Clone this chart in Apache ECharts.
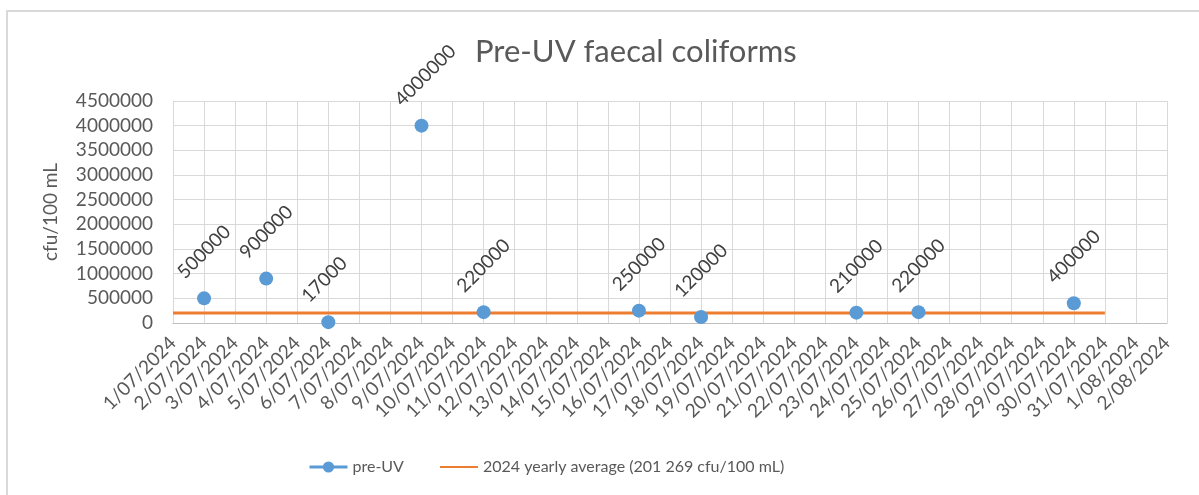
<!DOCTYPE html>
<html>
<head>
<meta charset="utf-8">
<script src="https://cdn.jsdelivr.net/npm/echarts@6/dist/echarts.min.js"></script>
<style>
  html, body { margin: 0; padding: 0; background: #fff; }
  #chart { width: 1199px; height: 495px; }
</style>
</head>
<body>
<div id="chart"></div>
<script>
// ── Data ──────────────────────────────────────────────────────────────────────
const dates = [
  '1/07/2024', '2/07/2024', '3/07/2024', '4/07/2024', '5/07/2024', '6/07/2024',
  '7/07/2024', '8/07/2024', '9/07/2024', '10/07/2024', '11/07/2024', '12/07/2024',
  '13/07/2024', '14/07/2024', '15/07/2024', '16/07/2024', '17/07/2024', '18/07/2024',
  '19/07/2024', '20/07/2024', '21/07/2024', '22/07/2024', '23/07/2024', '24/07/2024',
  '25/07/2024', '26/07/2024', '27/07/2024', '28/07/2024', '29/07/2024', '30/07/2024',
  '31/07/2024', '1/08/2024', '2/08/2024',
];

// sampled days only (pre-UV faecal coliforms, cfu/100 mL)
const sampleDates  = ['2/07/2024', '4/07/2024', '6/07/2024', '9/07/2024', '11/07/2024',
                      '16/07/2024', '18/07/2024', '23/07/2024', '25/07/2024', '30/07/2024'];
const sampleValues = [500000, 900000, 17000, 4000000, 220000,
                      250000, 120000, 210000, 220000, 400000];

const yearlyAverage = 201269;
const averageEnd    = '31/07/2024';

const yTicks = { min: 0, max: 4500000, interval: 500000 };

// ── Series built from the arrays above ───────────────────────────────────────
const preUV = dates.map(d => {
  const i = sampleDates.indexOf(d);
  return i >= 0 ? sampleValues[i] : null;
});
const lastAvg = dates.indexOf(averageEnd);
const avgLine = dates.map((d, i) => (i <= lastAvg ? yearlyAverage : null));

const FONT = 'Lato';
const TEXT = '#595959';
const GRID = '#d9d9d9';

const chart = echarts.init(document.getElementById('chart'), null, { renderer: 'canvas' });

chart.setOption({
  backgroundColor: '#fff',
  animation: false,
  textStyle: { fontFamily: FONT },
  title: {
    text: 'Pre-UV faecal coliforms',
    left: 470,
    top: 31,
    textStyle: { fontFamily: FONT, fontSize: 31, fontWeight: 'normal', color: TEXT },
  },
  graphic: [{
    type: 'rect',
    shape: { x: 7, y: 11, width: 1300, height: 600 },
    style: { fill: 'none', stroke: GRID, lineWidth: 2 },
    silent: true,
  }],
  legend: {
    left: 303,
    top: 454,
    itemWidth: 38,
    itemHeight: 14,
    itemGap: 35,
    textStyle: { fontFamily: FONT, fontSize: 16, color: TEXT },
    data: [
      { name: 'pre-UV', lineStyle: { width: 3, color: '#5b9bd5', opacity: 1 } },
      { name: '2024 yearly average (201 269 cfu/100 mL)', itemStyle: { opacity: 0 } },
    ],
  },
  grid: { left: 173, right: 32, top: 101, bottom: 172 },
  xAxis: {
    type: 'category',
    data: dates,
    boundaryGap: false,
    axisLine: { lineStyle: { color: '#bfbfbf', width: 1 } },
    axisTick: { show: false },
    axisLabel: {
      interval: 0,
      rotate: 45,
      margin: 17,
      fontFamily: FONT,
      fontSize: 19,
      color: TEXT,
    },
    splitLine: { show: true, lineStyle: { color: GRID, width: 1 } },
  },
  yAxis: {
    type: 'value',
    min: yTicks.min,
    max: yTicks.max,
    interval: yTicks.interval,
    name: 'cfu/100 mL',
    nameLocation: 'middle',
    nameGap: 113,
    nameTextStyle: { fontFamily: FONT, fontSize: 19, color: TEXT },
    axisLine: { show: false },
    axisTick: { show: false },
    axisLabel: {
      margin: 20,
      fontFamily: FONT,
      fontSize: 19,
      color: TEXT,
      formatter: v => String(v),
    },
    splitLine: { show: true, lineStyle: { color: GRID, width: 1 } },
  },
  series: [
    {
      name: '2024 yearly average (201 269 cfu/100 mL)',
      type: 'line',
      data: avgLine,
      symbol: 'none',
      lineStyle: { color: '#ed7d31', width: 3 },
      itemStyle: { color: '#ed7d31' },
      z: 2,
    },
    {
      name: 'pre-UV',
      type: 'line',
      data: preUV,
      symbol: 'circle',
      symbolSize: 14,
      showSymbol: true,
      connectNulls: false,
      lineStyle: { opacity: 0, color: '#5b9bd5' },
      itemStyle: { color: '#5b9bd5' },
      label: {
        show: true,
        position: 'top',
        distance: 4,
        rotate: 45,
        align: 'left',
        verticalAlign: 'middle',
        // offset is in the rotated text frame: [along text, across text]
        offset: [-8, -25],
        fontFamily: FONT,
        fontSize: 19,
        color: '#404040',
      },
      z: 3,
    },
  ],
});
</script>
</body>
</html>
